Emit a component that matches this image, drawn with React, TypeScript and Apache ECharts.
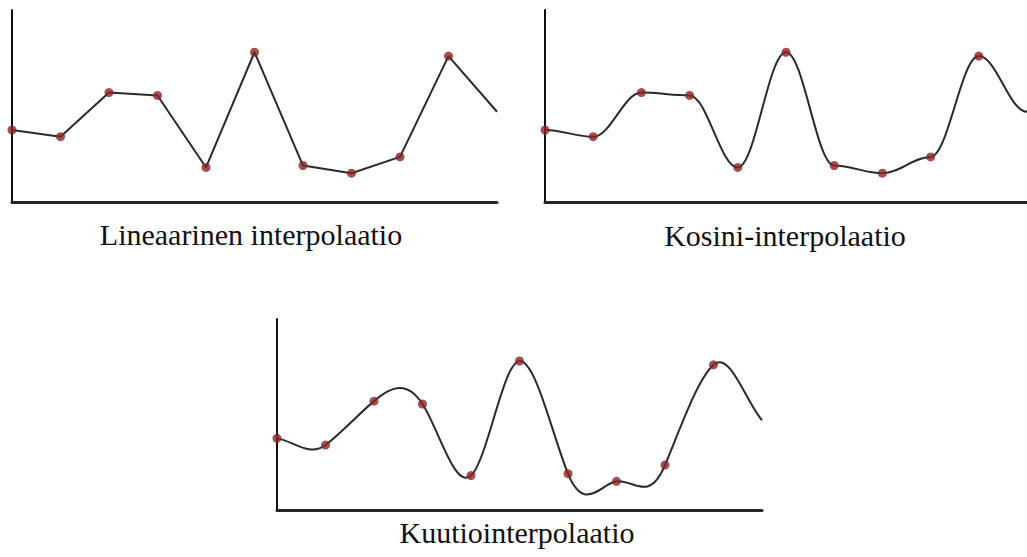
import React, { useEffect, useRef } from "react";
import * as echarts from "echarts";

// Sample values (same points used in all three panels), x = 0..10
const values: number[] = [37.5, 34, 57, 55.5, 18, 78, 19, 15, 23.5, 76, 47];
// Points drawn with a dot (the last value is only the line's end at the edge)
const dotCount = 10;
const panelTitles: string[] = [
  "Lineaarinen interpolaatio",
  "Kosini-interpolaatio",
  "Kuutiointerpolaatio",
];

const LINE_COLOR = "#2a2a2a";
const DOT_COLOR = "#8b2323";

function makeCurve(kind: "cos" | "cubic") {
  return (params: any, api: any) => {
    const i = params.dataIndex;
    const n = values.length;
    const ya = values[i];
    const yb = values[i + 1];
    if (yb === undefined) return null;
    let c1: number, c2: number, a: number;
    if (kind === "cos") {
      c1 = ya;
      c2 = yb;
      a = 0.3634;
    } else {
      const yPrev = values[Math.max(i - 1, 0)];
      const yNext = values[Math.min(i + 2, n - 1)];
      const m0 = yb - yPrev;
      const m1 = yNext - ya;
      c1 = ya + m0 / 3;
      c2 = yb - m1 / 3;
      a = 1 / 3;
    }
    const p0 = api.coord([i, ya]);
    const p1 = api.coord([i + 1, yb]);
    const q1 = api.coord([i + a, c1]);
    const q2 = api.coord([i + 1 - a, c2]);
    return {
      type: "bezierCurve",
      shape: {
        x1: p0[0], y1: p0[1], x2: p1[0], y2: p1[1],
        cpx1: q1[0], cpy1: q1[1], cpx2: q2[0], cpy2: q2[1],
      },
      style: { stroke: LINE_COLOR, lineWidth: 2, fill: "none" },
    };
  };
}

export default function App() {
  const ref = useRef<HTMLDivElement>(null);
  useEffect(() => {
    document.body.style.margin = "0";
    if (!ref.current) return;
    const chart = echarts.init(ref.current, null, { renderer: "svg" });
    const grids = [
      { left: 12, top: 10, width: 485, height: 192 },
      { left: 545, top: 10, width: 485, height: 192 },
      { left: 277, top: 319, width: 485, height: 191 },
    ];
    const axisBase = {
      axisTick: { show: false },
      axisLabel: { show: false },
      splitLine: { show: false },
    };
    const xAxes = grids.map((_, g) => ({
      ...axisBase,
      type: "value",
      gridIndex: g,
      min: 0,
      max: 10,
      axisLine: { show: true, onZero: false, lineStyle: { color: "#262626", width: 3 } },
    }));
    const yAxes = grids.map((_, g) => ({
      ...axisBase,
      type: "value",
      gridIndex: g,
      min: 0,
      max: 100,
      axisLine: { show: true, onZero: false, lineStyle: { color: "#111", width: 2 } },
    }));
    const pts = values.map((v, i) => [i, v]);
    const dots = pts.slice(0, dotCount);
    const series: any[] = [
      {
        type: "line",
        xAxisIndex: 0,
        yAxisIndex: 0,
        data: pts,
        showSymbol: false,
        lineStyle: { color: LINE_COLOR, width: 2 },
        z: 2,
      },
      {
        type: "custom",
        xAxisIndex: 1,
        yAxisIndex: 1,
        data: pts,
        renderItem: makeCurve("cos"),
        z: 2,
      },
      {
        type: "custom",
        xAxisIndex: 2,
        yAxisIndex: 2,
        data: pts,
        renderItem: makeCurve("cubic"),
        z: 2,
      },
    ];
    for (let g = 0; g < 3; g++) {
      series.push({
        type: "scatter",
        xAxisIndex: g,
        yAxisIndex: g,
        data: dots,
        symbolSize: 9,
        itemStyle: { color: DOT_COLOR },
        z: 3,
      });
    }
    const labelPos = [
      [251, 234],
      [785, 235],
      [517, 532],
    ];
    chart.setOption({
      animation: false,
      backgroundColor: "#ffffff",
      grid: grids,
      xAxis: xAxes,
      yAxis: yAxes,
      series,
      graphic: panelTitles.map((t, k) => ({
        type: "text",
        x: labelPos[k][0],
        y: labelPos[k][1],
        style: {
          text: t,
          fill: "#111",
          font: '30px "Liberation Serif"',
          textAlign: "center",
          textVerticalAlign: "middle",
        },
      })),
    });
    return () => chart.dispose();
  }, []);
  return <div ref={ref} style={{ width: 1027, height: 557 }} />;
}
